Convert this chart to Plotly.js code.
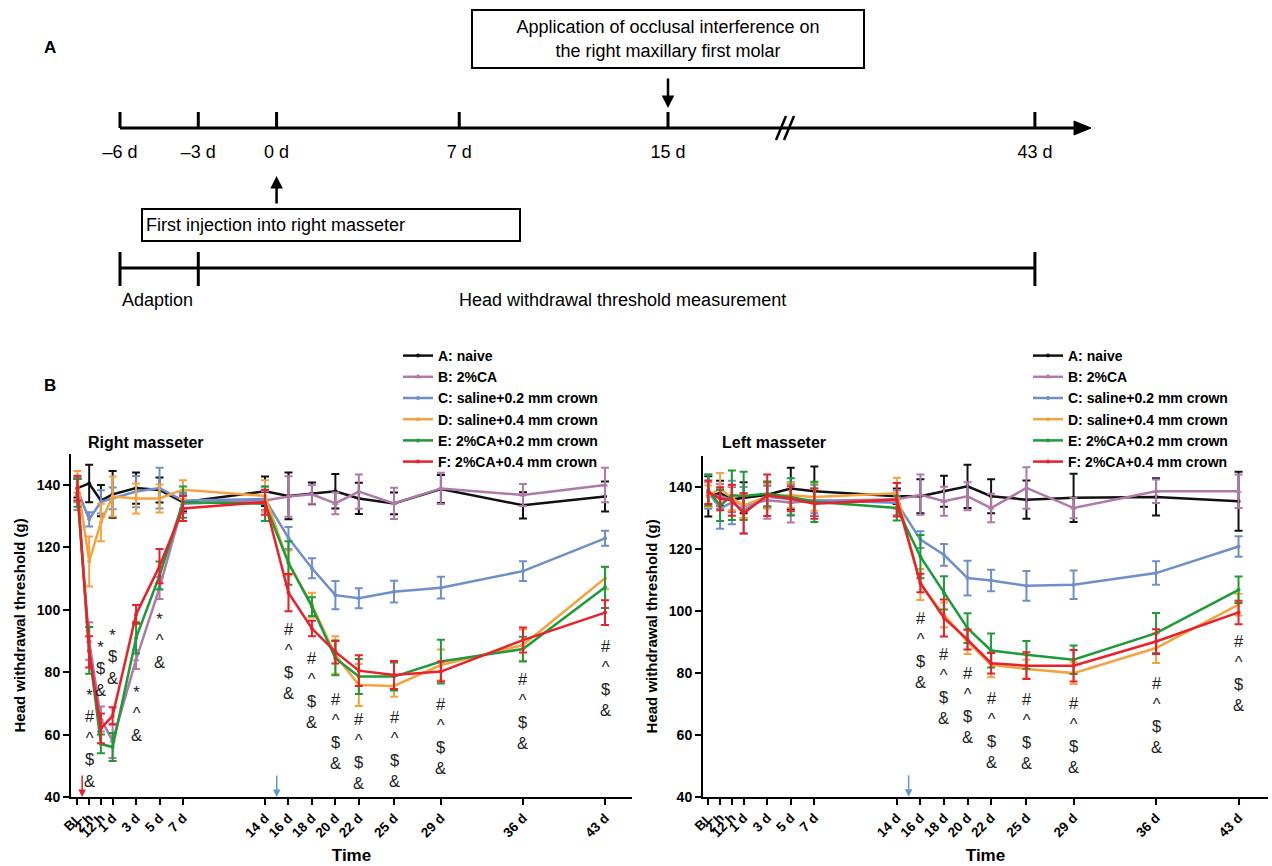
<!DOCTYPE html>
<html><head><meta charset="utf-8">
<script src="https://cdn.plot.ly/plotly-3.0.1.min.js"></script>
<style>html,body{margin:0;padding:0;background:#fff;}#chart{width:1272px;height:866px;}</style>
</head><body><div id="chart"></div>
<script>
// ---------- data ----------
const timeLabels = ['BL','2 h','12 h','1 d','3 d','5 d','7 d','14 d','16 d','18 d','20 d','22 d','25 d','29 d','36 d','43 d'];
const timePos    = [-2, -1, 0, 1, 3, 5, 7, 14, 16, 18, 20, 22, 25, 29, 36, 43];
const groupNames = ['A: naive','B: 2%CA','C: saline+0.2 mm crown','D: saline+0.4 mm crown','E: 2%CA+0.2 mm crown','F: 2%CA+0.4 mm crown'];

// Right masseter (mean, SEM)
const rA  = [139, 140.5, 135, 137, 139, 138.4, 134.5, 138, 136.5, 137.3, 138, 135.7, 134.1, 138.7, 133.5, 136.3];
const rAe = [3, 6, 5, 7.5, 5, 4, 3, 4.7, 7.5, 3.5, 5.5, 5, 3.5, 4.5, 4.2, 4.8];
const rB  = [137, 90, 65, 58, 84, 107, 134, 135, 136.3, 137, 134.1, 137.9, 134.1, 138.9, 136.8, 140];
const rBe = [5, 6, 4, 5.5, 3, 3.5, 3, 3, 6.5, 3, 3.5, 5.5, 5, 5, 3.5, 5.5];
const rC  = [138.5, 129, 134.6, 135.7, 137.9, 139, 135, 135.5, 123, 113.3, 104.7, 103.7, 105.8, 107.1, 112.4, 122.9];
const rCe = [4, 2.3, 3.7, 3.5, 5, 6.5, 2.5, 4, 3.5, 3.2, 4.5, 3.2, 3.5, 3.5, 3.2, 2.4];
const rD  = [141, 115.5, 128, 136.3, 135.7, 135.7, 138.5, 136.5, 115, 101.5, 85.5, 75.9, 75.6, 82.3, 88.7, 110.1];
const rDe = [3.5, 8, 6, 6.4, 4.8, 4.5, 3, 5, 4, 4, 6, 6.7, 3.5, 5, 5, 3.5];
const rE  = [137.5, 87, 57, 56, 91, 111, 134.5, 134, 115, 101, 84.5, 78.6, 78.6, 83.4, 87.4, 107.2];
const rEe = [4.5, 7.5, 3, 4.5, 5, 4.5, 5, 5.5, 7, 3, 5.5, 5.6, 4.5, 7, 4, 6.6];
const rF  = [139, 86.5, 62, 66, 98.5, 114, 132.5, 134.5, 105.5, 94, 86.5, 80.5, 79.1, 80.2, 90.3, 99.1];
const rFe = [4, 5, 4.8, 2.8, 3, 5.5, 4, 4, 6, 2.5, 3.7, 4.9, 4.5, 3.2, 4, 4];

// Left masseter (mean, SEM)
const lA  = [137, 138, 136, 136.5, 137.5, 139.5, 138.6, 137, 137, 138.6, 140.2, 137, 135.9, 136.5, 136.8, 135.4];
const lAe = [6.5, 4, 4, 5, 4, 6.7, 8, 2.5, 5.5, 5, 7, 5.5, 6.2, 7.8, 6, 9.5];
const lB  = [137.5, 137, 136, 134, 135.7, 135, 135.5, 136, 137.5, 135.4, 137, 133.2, 139.7, 133.2, 138.6, 138.6];
const lBe = [4, 4, 4, 4, 6, 6.5, 4, 3, 6.5, 4.7, 4.5, 4.6, 6.7, 3.3, 3.8, 5.4];
const lC  = [138.5, 133, 135, 132.5, 136.8, 136, 135.7, 134.9, 123, 118.1, 110.6, 109.8, 108.1, 108.4, 112.2, 120.8];
const lCe = [5.5, 6.5, 7, 7.5, 3.5, 5, 5, 4, 2.7, 3.5, 5.6, 3.5, 4.8, 4.6, 3.8, 3.3];
const lD  = [137, 139.5, 136.5, 134, 137, 137.3, 136.8, 138, 108.5, 98.7, 90.1, 82.6, 81.2, 79.9, 88, 102];
const lDe = [3.5, 5, 4, 4, 4, 4, 4.5, 5, 5, 4, 4, 4, 3, 3.5, 4.8, 3.5];
const lE  = [139, 134, 137.3, 137.1, 137.8, 136.8, 135.2, 133.2, 117.5, 105.8, 94.4, 87.2, 85.8, 84.2, 92.8, 106.8];
const lEe = [5, 5, 8, 7.8, 4, 6, 6.5, 4, 7, 5.4, 4.8, 5.5, 4.5, 4.6, 6.5, 4.3];
const lF  = [138.3, 136.2, 135.7, 131.5, 137.3, 136.2, 134.6, 135.9, 109, 97.7, 90.7, 83.1, 82.3, 82.3, 90.1, 99.5];
const lFe = [3.8, 3.7, 5, 6.5, 6.7, 4, 4.9, 5.4, 3, 6, 3.2, 3.3, 4.3, 5.1, 4, 3.8];

// significance marks (time position, text, value at top of label)
const sigRightTime = [-1, 0, 1, 3, 5, 16, 18, 20, 22, 25, 29, 36, 43];
const sigRightText = ['*<br>#<br>^<br>$<br>&','*<br>$<br>&','*<br>$<br>&','*<br>^<br>&','*<br>^<br>&',
  '#<br>^<br>$<br>&','#<br>^<br>$<br>&','#<br>^<br>$<br>&','#<br>^<br>$<br>&','#<br>^<br>$<br>&','#<br>^<br>$<br>&','#<br>^<br>$<br>&','#<br>^<br>$<br>&'];
const sigRightTop  = [76.2, 91.6, 95.4, 77.2, 100.6, 97.4, 88.1, 74.9, 68.5, 69.2, 73.3, 81.3, 91.9];
const sigLeftTime  = [16, 18, 20, 22, 25, 29, 36, 43];
const sigLeftTop   = [101.3, 89.7, 83.5, 75.5, 75.1, 73.9, 80.3, 93.9];

// timeline (panel A)
const tlDays   = [-6, -3, 0, 7, 15, 43];
const tlLabels = ['–6 d','–3 d','0 d','7 d','15 d','43 d'];

// ---------- styling ----------
const colors  = ['#111111','#b07aa8','#6f8fcb','#f5a33f','#1e9a3a','#e8212a'];
const symbols = ['circle','triangle-up','circle','circle','circle','circle'];
const FONT = 'Liberation Sans, Arial, sans-serif';

const rightSets = [[rA,rAe],[rB,rBe],[rC,rCe],[rD,rDe],[rE,rEe],[rF,rFe]];
const leftSets  = [[lA,lAe],[lB,lBe],[lC,lCe],[lD,lDe],[lE,lEe],[lF,lFe]];

const traces = [];

// timeline axis helpers (x3 in days with a break after 15 d, y3 in screen rows)
const pxPerDay = 548 / 21;
const x3min = -6 - 120 / pxPerDay;
const x3max = x3min + 1272 / pxPerDay;
const breakShift = 13.94;
const tlX = d => d > 15 ? d - breakShift : d;
const pxToX3 = p => x3min + p / pxPerDay;

traces.push({
  type: 'scatter', mode: 'text', x: tlDays.map(tlX), y: tlDays.map(() => 153),
  text: tlLabels, textfont: {family: FONT, size: 18, color: '#000'},
  xaxis: 'x3', yaxis: 'y3', showlegend: false, hoverinfo: 'skip'
});

function addSeries(sets, xa, ya, leg) {
  sets.forEach((s, i) => {
    traces.push({
      type: 'scatter', mode: 'lines+markers', x: timePos, y: s[0],
      xaxis: xa, yaxis: ya, name: groupNames[i], legend: leg,
      line: {color: colors[i], width: 2.5},
      marker: {color: colors[i], size: symbols[i] === 'circle' ? 4 : 6, symbol: symbols[i]},
      error_y: {type: 'data', array: s[1], visible: true, color: colors[i], thickness: 2, width: 4},
      cliponaxis: false
    });
  });
}
addSeries(rightSets, 'x', 'y', 'legend');
addSeries(leftSets, 'x2', 'y2', 'legend2');

const shapes = [];
const L = (x0, y0, x1, y1, w) => shapes.push({type: 'line', xref: 'x3', yref: 'y3', x0, y0, x1, y1, line: {color: '#000', width: w}});
L(tlX(-6), 128, pxToX3(1078), 128, 3);
tlDays.forEach(d => L(tlX(d), 112, tlX(d), 128, 3));
shapes.push({type: 'path', xref: 'x3', yref: 'y3', fillcolor: '#000', line: {color: '#000', width: 1},
  path: `M ${pxToX3(1074)},121 L ${pxToX3(1091)},128 L ${pxToX3(1074)},135 Z`});
L(pxToX3(776), 140, pxToX3(786), 116, 2.5);
L(pxToX3(784), 140, pxToX3(794), 116, 2.5);
L(tlX(-6), 268, tlX(43), 268, 3);
[-6, -3, 43].forEach(d => L(tlX(d), 252, tlX(d), 286, 3));

const annotations = [];
const ann = o => annotations.push(Object.assign({showarrow: false, yanchor: 'middle', font: {family: FONT, size: 18, color: '#000'}}, o));

ann({xref: 'paper', yref: 'paper', x: 42/1272, y: 1 - 48/866, text: '<b>A</b>', font: {family: FONT, size: 17, color: '#000'}});
ann({xref: 'paper', yref: 'paper', x: 42/1272, y: 1 - 385/866, text: '<b>B</b>', font: {family: FONT, size: 17, color: '#000'}});
ann({xref: 'x3', yref: 'y3', x: tlX(15), y: 38.5, text: 'Application of occlusal interference on<br>the right maxillary first molar',
  bordercolor: '#000', borderwidth: 2, borderpad: 4, width: 382, height: 48, align: 'center'});
ann({xref: 'x3', yref: 'y3', x: tlX(15), y: 108, ax: 0, ay: -31, showarrow: true, arrowhead: 2, arrowsize: 1, arrowwidth: 2.5, arrowcolor: '#000', text: ''});
ann({xref: 'x3', yref: 'y3', x: tlX(0), y: 176, ax: 0, ay: 29, showarrow: true, arrowhead: 2, arrowsize: 1, arrowwidth: 2.5, arrowcolor: '#000', text: ''});
ann({xref: 'x3', yref: 'y3', x: pxToX3(330.5), y: 225, text: 'First injection into right masseter',
  bordercolor: '#000', borderwidth: 2, borderpad: 3, width: 370, height: 24, align: 'left'});
ann({xref: 'x3', yref: 'y3', x: pxToX3(157), y: 300, text: 'Adaption'});
ann({xref: 'x3', yref: 'y3', x: pxToX3(622), y: 300, text: 'Head withdrawal threshold measurement'});

// panel titles
ann({xref: 'paper', yref: 'paper', x: 86/1272, xanchor: 'left', y: 1 - 443/866, text: '<b>Right masseter</b>', font: {family: FONT, size: 16, color: '#000'}});
ann({xref: 'paper', yref: 'paper', x: 720/1272, xanchor: 'left', y: 1 - 443/866, text: '<b>Left masseter</b>', font: {family: FONT, size: 16, color: '#000'}});

// significance labels
const sigFont = {family: FONT, size: 16.5, color: '#222'};
sigRightTime.forEach((t, i) => ann({xref: 'x', yref: 'y', x: t, y: sigRightTop[i], yanchor: 'top', text: sigRightText[i], font: sigFont}));
sigLeftTime.forEach((t, i) => ann({xref: 'x2', yref: 'y2', x: t, y: sigLeftTop[i], yanchor: 'top', text: '#<br>^<br>$<br>&', font: sigFont}));

// injection / interference arrows
const arrow = (xr, yr, x, c) => annotations.push({xref: xr, yref: yr, x, y: 40, ax: 0, ay: -23, showarrow: true,
  arrowhead: 2, arrowsize: 1, arrowwidth: 1.5, arrowcolor: c, text: ''});
arrow('x', 'y', -1.6, '#e8212a');
arrow('x', 'y', 15, '#5b9bd5');
arrow('x2', 'y2', 15, '#5b9bd5');

const tickFont = {family: FONT, size: 13.5, color: '#000', weight: 700};
const xBase = {
  tickvals: timePos, ticktext: timeLabels, tickangle: -45, tickfont: tickFont,
  showline: true, linecolor: '#000', linewidth: 2, ticks: 'outside', ticklen: 6, tickwidth: 2, tickcolor: '#000',
  showgrid: false, zeroline: false, automargin: false,
  title: {text: 'Time', font: {family: FONT, size: 17, color: '#000', weight: 700}, standoff: 10}
};
const yBase = {
  range: [40, 150], tickvals: [40, 60, 80, 100, 120, 140], tickfont: {family: FONT, size: 14, color: '#000', weight: 700},
  showline: true, linecolor: '#000', linewidth: 2, ticks: 'outside', ticklen: 6, tickwidth: 2, tickcolor: '#000',
  showgrid: false, zeroline: false, automargin: false,
  title: {text: 'Head withdrawal threshold (g)', font: {family: FONT, size: 15, color: '#000', weight: 700}, standoff: 8}
};

const legBase = {
  font: {family: FONT, size: 14, color: '#000', weight: 700}, bgcolor: 'rgba(0,0,0,0)',
  xanchor: 'left', yanchor: 'top', tracegroupgap: 0, itemwidth: 30
};

const layout = {
  width: 1272, height: 866, margin: {l: 0, r: 0, t: 0, b: 0},
  paper_bgcolor: '#fff', plot_bgcolor: 'rgba(0,0,0,0)', showlegend: true,
  font: {family: FONT, color: '#000'},
  xaxis3: {domain: [0, 1], range: [x3min, x3max], visible: false, anchor: 'y3', fixedrange: true},
  yaxis3: {domain: [0, 1], range: [866, 0], visible: false, anchor: 'x3', fixedrange: true},
  xaxis: Object.assign({}, xBase, {domain: [71/1272, 632/1272], range: [-2.55, 45.3], anchor: 'y'}),
  yaxis: Object.assign({}, yBase, {domain: [1 - 797/866, 1 - 453.8/866], anchor: 'x'}),
  xaxis2: Object.assign({}, xBase, {domain: [703/1272, 1268/1272], range: [-2.45, 45.5], anchor: 'y2'}),
  yaxis2: Object.assign({}, yBase, {domain: [1 - 796.7/866, 1 - 456/866], anchor: 'x2'}),
  legend: Object.assign({}, legBase, {x: 398/1272, y: 1 - 340/866}),
  legend2: Object.assign({}, legBase, {x: 1028/1272, y: 1 - 340/866}),
  shapes, annotations
};

Plotly.newPlot('chart', traces, layout, {displayModeBar: false, staticPlot: true});
</script>
</body></html>
